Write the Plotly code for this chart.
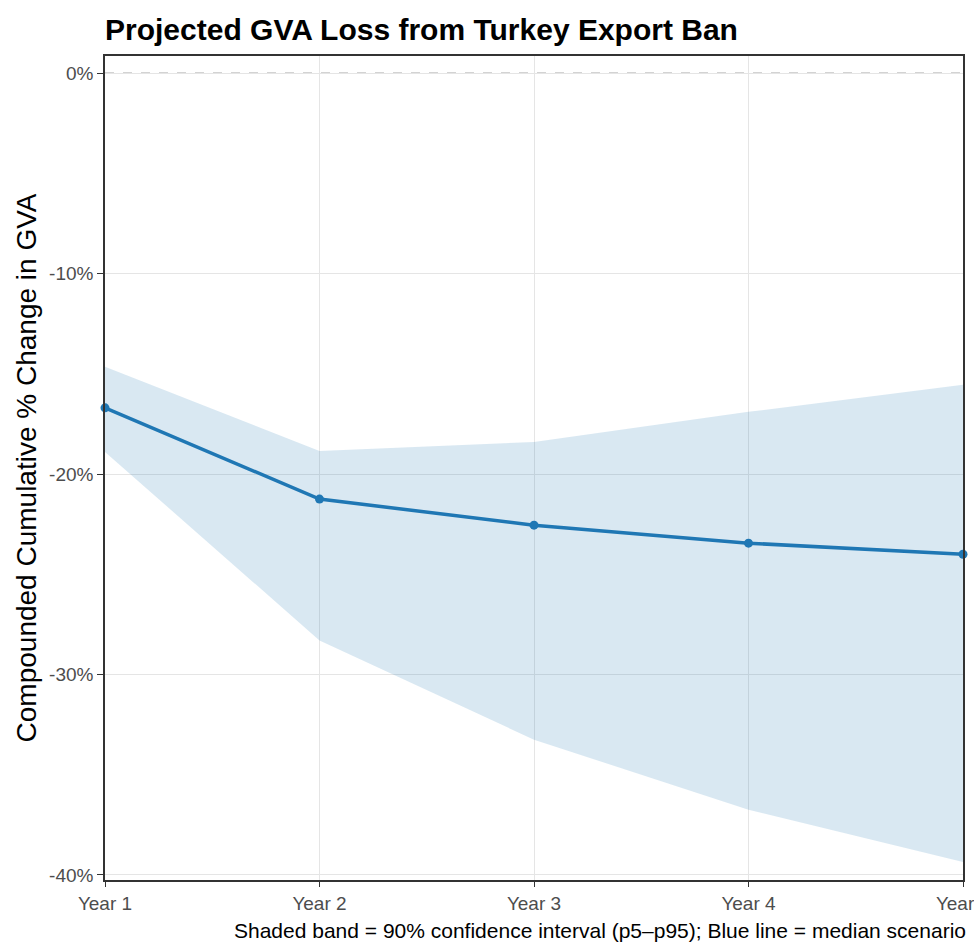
import plotly.graph_objects as go

years = ["Year 1", "Year 2", "Year 3", "Year 4", "Year 5"]
year_pos = [1, 2, 3, 4, 5]
median = [-16.7, -21.25, -22.55, -23.45, -24.0]
p95 = [-14.65, -18.85, -18.4, -16.9, -15.55]
p5 = [-18.9, -28.3, -33.25, -36.75, -39.35]
y_ticks = [0, -10, -20, -30, -40]
y_tick_labels = ["0%", "-10%", "-20%", "-30%", "-40%"]

FONT = "Liberation Sans, Arial, sans-serif"
fig = go.Figure()

# 90% band (p5-p95)
fig.add_trace(go.Scatter(x=year_pos, y=p95, mode="lines", line=dict(width=0),
                         showlegend=False, hoverinfo="skip"))
fig.add_trace(go.Scatter(x=year_pos, y=p5, mode="lines", line=dict(width=0),
                         fill="tonexty", fillcolor="rgba(31,119,180,0.17)",
                         showlegend=False, hoverinfo="skip"))

# median scenario
fig.add_trace(go.Scatter(x=year_pos, y=median, mode="lines+markers",
                         line=dict(color="#1f77b4", width=3.5),
                         marker=dict(color="#1f77b4", size=9),
                         showlegend=False, cliponaxis=False))

fig.add_shape(type="line", xref="paper", x0=0, x1=1, yref="y", y0=0, y1=0,
              line=dict(color="#a0a0a0", width=1, dash="dash"), layer="below")

fig.update_layout(
    width=974, height=946,
    margin=dict(l=105, r=11, t=56, b=66),
    paper_bgcolor="white", plot_bgcolor="white",
    font=dict(family=FONT, color="#4d4d4d", size=19),
    title=dict(text="<b>Projected GVA Loss from Turkey Export Ban</b>",
               x=105 / 974, xanchor="left", y=1 - 29 / 946, yanchor="middle",
               font=dict(family=FONT, size=30, color="black")),
    xaxis=dict(range=[1, 5], tickvals=year_pos, ticktext=years,
               showgrid=True, gridcolor="#e5e5e5", gridwidth=1,
               showline=True, mirror=True, linecolor="#333333", linewidth=1.5,
               ticks="outside", ticklen=5, tickcolor="#333333",
               tickfont=dict(size=19, color="#4d4d4d"), zeroline=False,
               ticklabeloverflow="allow", automargin=False),
    yaxis=dict(range=[-40.25, 0.85], tickvals=y_ticks, ticktext=y_tick_labels,
               showgrid=True, gridcolor="#e5e5e5", gridwidth=1,
               showline=True, mirror=True, linecolor="#333333", linewidth=1.5,
               ticks="outside", ticklen=6, tickcolor="#333333",
               tickfont=dict(size=19, color="#4d4d4d"), zeroline=False,
               title=dict(text="Compounded Cumulative % Change in GVA",
                          font=dict(size=28, color="black"), standoff=4),
               automargin=False),
    annotations=[dict(text="Shaded band = 90% confidence interval (p5\u2013p95); Blue line = median scenario",
                      xref="paper", yref="paper", x=(968 - 105) / 858, y=-(944 - 880) / 824,
                      xanchor="right", yanchor="bottom", showarrow=False,
                      font=dict(size=21, color="black"))],
)

fig.write_html("out.html")
